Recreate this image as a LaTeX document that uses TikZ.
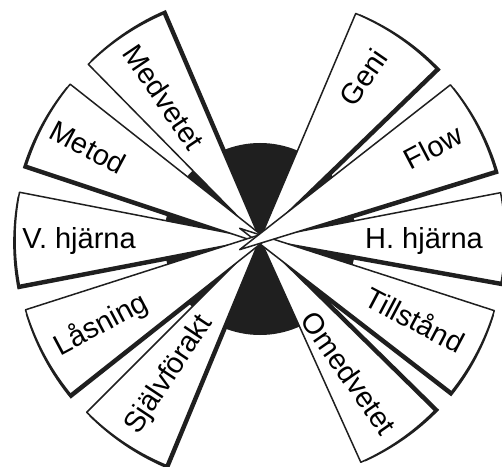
\documentclass[tikz,border=0pt]{standalone}
\usepackage{fontspec}
\setmainfont{Liberation Sans}
\begin{document}
\begin{tikzpicture}[x=1pt,y=1pt,
  lbl/.style={font=\fontsize{29}{32}\selectfont, inner sep=0pt, text height=21pt, text depth=0pt, anchor=center},
  ink/.style={black!88}]
\useasboundingbox (0,0) rectangle (502,466);
\begin{scope}[shift={(260,227)}]
\fill[ink] (0,0) circle (96);
% shadows (thick lower/outer edges)
\foreach \a/\b/\d in {169/190.9/0, 10.9/-10.2/0, 134.5/113.2/0, -65.7/-44.5/0, 67/44/0, 225/247.5/0, 140.8/162.5/23, -17/-38.6/23, 196.8/219.3/23, 39/16.2/23}{
  \pgfmathsetmacro\sg{sign(\b-\a)}
  \pgfmathsetmacro\dir{\b+\sg*55}
  \pgfmathsetmacro\ax{(\a+\b)/2+180}
  \fill[ink, shift={(\dir:4.5)}] (\ax:\d) -- (\b:245) arc[start angle=\b, end angle=\a, radius=245] -- cycle;
}
% blades
\foreach \a/\b/\d in {169/190.9/0, 10.9/-10.2/0, 134.5/113.2/0, -65.7/-44.5/0, 67/44/0, 225/247.5/0, 140.8/162.5/23, -17/-38.6/23, 196.8/219.3/23, 39/16.2/23}{
  \pgfmathsetmacro\ax{(\a+\b)/2+180}
  \filldraw[fill=white, draw=black!88, line width=1.5, line join=round] (\ax:\d) -- (\b:245) arc[start angle=\b, end angle=\a, radius=245] -- cycle;
}
\end{scope}
\node[lbl, rotate=-56] (medv) at (164,369) {Medvetet};
\node[lbl, rotate=-28] (metod) at (88,319) {Metod};
\node[lbl] (vh) at (79,228.5) {V. hjärna};
\node[lbl, rotate=28] (lasn) at (100,143) {Låsning};
\node[lbl, rotate=56.3] (sjalv) at (167,93) {Självförakt};
\node[lbl, rotate=55.5] (geni) at (363,389) {Geni};
\node[lbl, rotate=27.6] (flow) at (433,319) {Flow};
\node[lbl] (hh) at (424,228.5) {H. hjärna};
\node[lbl, rotate=-27.8] (till) at (415,146) {Tillstånd};
\node[lbl, rotate=-55] (omedv) at (349,93) {Omedvetet};
\end{tikzpicture}
\end{document}
